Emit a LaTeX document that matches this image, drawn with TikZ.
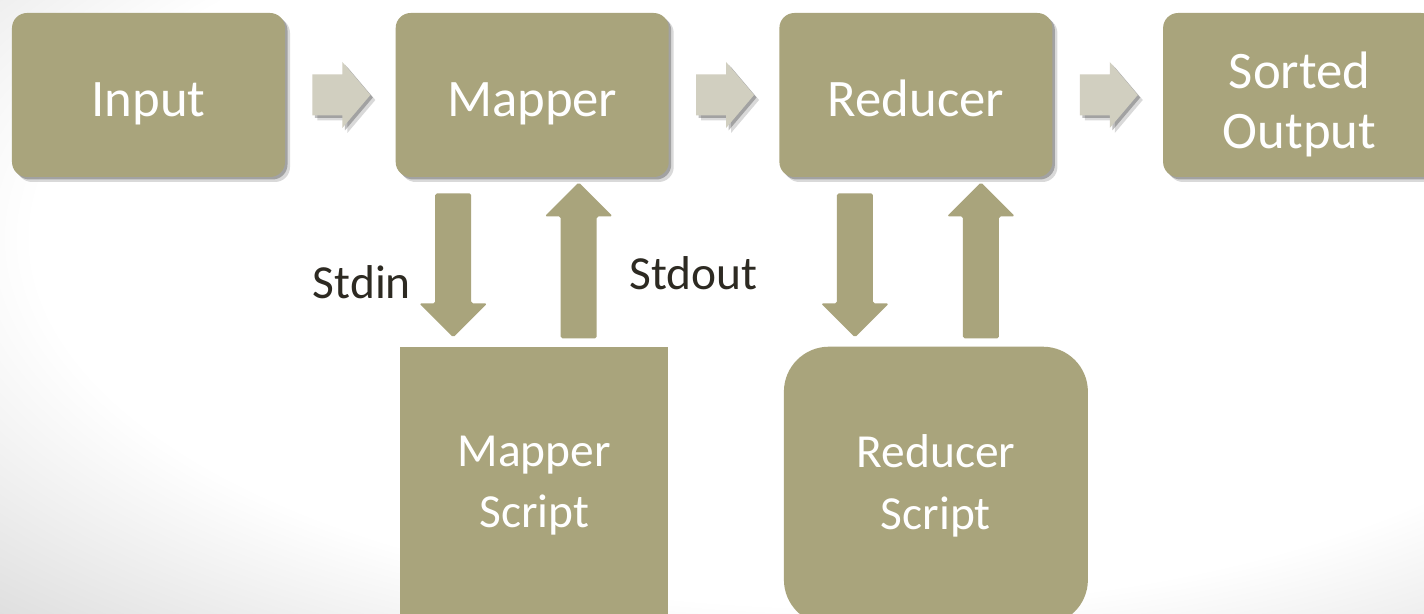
\documentclass[tikz,border=0pt]{standalone}
\usepackage{fontspec}
\setmainfont{Carlito}
\usetikzlibrary{positioning, calc, shadows}
\definecolor{boxolive}{RGB}{169,164,124}
\definecolor{arrowgrey}{RGB}{209,207,192}
\definecolor{labeldark}{RGB}{45,42,34}
\definecolor{bggrey}{RGB}{216,216,216}
\pgfdeclareradialshading{bgblob}{\pgfpoint{0bp}{0bp}}{color(0bp)=(white); color(16bp)=(white); color(25bp)=(bggrey); color(50bp)=(bggrey)}

% block arrow: tail, tip, half shaft, half head, head length, style
\newcommand{\blockarrow}[6]{%
  \coordinate (headbase) at ($(#2)!#5!(#1)$);
  \fill[#6] ($(#1)!#3!90:(#2)$) -- ($(headbase)!#3!90:(#2)$) -- ($(headbase)!#4!90:(#2)$) -- (#2)
    -- ($(headbase)!#4!-90:(#2)$) -- ($(headbase)!#3!-90:(#2)$) -- ($(#1)!#3!-90:(#2)$) -- cycle;
}

\tikzset{
  softshadow/.style={drop shadow={shadow xshift=0.1cm, shadow yshift=-0.1cm, opacity=0.15, fill=black},
                     drop shadow={shadow xshift=0.05cm, shadow yshift=-0.05cm, opacity=0.25, fill=black}},
  procbox/.style={fill=boxolive, rounded corners=0.3cm, minimum width=5.46cm, minimum height=3.28cm,
                  inner sep=0pt, softshadow},
  boxtext/.style={align=center, text=white, inner sep=0pt, font=\fontsize{30}{34}\selectfont},
  oneline/.style={boxtext, text height=25pt, text depth=0pt},
  twoline/.style={boxtext, yshift=-0.19cm},
  scriptbox/.style={fill=boxolive, minimum width=5.36cm, minimum height=5.56cm,
                  inner sep=0pt, align=center, text=white, font=\fontsize{27}{35}\selectfont},
  flowarrow/.style={fill=arrowgrey, softshadow},
  pipearrow/.style={fill=boxolive, rounded corners=1pt},
  iolabel/.style={inner sep=0pt, text=labeldark, font=\fontsize{27}{32}\selectfont}
}

\begin{document}
\begin{tikzpicture}
    \useasboundingbox (0,0) rectangle (28.48,12.26);
    \clip (0,0) rectangle (28.48,12.26);
    % background
    \fill[bggrey] (0,0) rectangle (28.48,12.26);
    \shade[shading=bgblob] (17,7.5) ellipse (25.5 and 11.5);

    % top row
    \node[procbox, label={[oneline]center:Input}] (input) at (2.97,10.36) {};
    \node[procbox, right=2.2cm of input, label={[oneline]center:Mapper}] (mapper) {};
    \node[procbox, right=2.2cm of mapper, label={[oneline]center:Reducer}] (reducer) {};
    \node[procbox, right=2.2cm of reducer, label={[twoline]center:Sorted\\Output}] (sorted) {};

    % scripts
    \node[scriptbox, below=3.38cm of mapper, xshift=0.04cm] (mscript) {Mapper\\Script};
    \node[scriptbox, below=3.38cm of reducer, xshift=0.4cm, minimum width=6.08cm, rounded corners=0.9cm] (rscript) {Reducer\\Script};

    % flow arrows
    \foreach \a/\b in {input/mapper, mapper/reducer, reducer/sorted} {
        \coordinate (tail) at ($(\a.east)+(0.54,0)$);
        \coordinate (tip) at ($(\b.west)+(-0.5,0)$);
        \blockarrow{tail}{tip}{0.41cm}{0.66cm}{0.56cm}{flowarrow}
    }

    % pipes to and from the scripts
    \path (mscript.north) ++(-1.62,0.18) coordinate (stdin-tip);
    \path (mapper.south -| stdin-tip) ++(0,-0.32) coordinate (stdin-tail);
    \path (mscript.north) ++(0.89,0.16) coordinate (stdout-tail);
    \path (mapper.south -| stdout-tail) ++(0,-0.1) coordinate (stdout-tip);
    \path (rscript.north) ++(-1.62,0.18) coordinate (rin-tip);
    \path (reducer.south -| rin-tip) ++(0,-0.32) coordinate (rin-tail);
    \path (rscript.north) ++(0.9,0.16) coordinate (rout-tail);
    \path (reducer.south -| rout-tail) ++(0,-0.1) coordinate (rout-tip);

    \blockarrow{stdin-tail}{stdin-tip}{0.36cm}{0.68cm}{0.68cm}{pipearrow}
    \blockarrow{stdout-tail}{stdout-tip}{0.36cm}{0.68cm}{0.68cm}{pipearrow}
    \blockarrow{rin-tail}{rin-tip}{0.36cm}{0.68cm}{0.68cm}{pipearrow}
    \blockarrow{rout-tail}{rout-tip}{0.36cm}{0.68cm}{0.68cm}{pipearrow}

    \node[iolabel, anchor=east] (stdin) at ($(stdin-tail)!0.62!(stdin-tip)+(-0.84,0)$) {Stdin};
    \node[iolabel, anchor=west] (stdout) at ($(stdout-tail)!0.42!(stdout-tip)+(1.01,0)$) {Stdout};
\end{tikzpicture}
\end{document}
